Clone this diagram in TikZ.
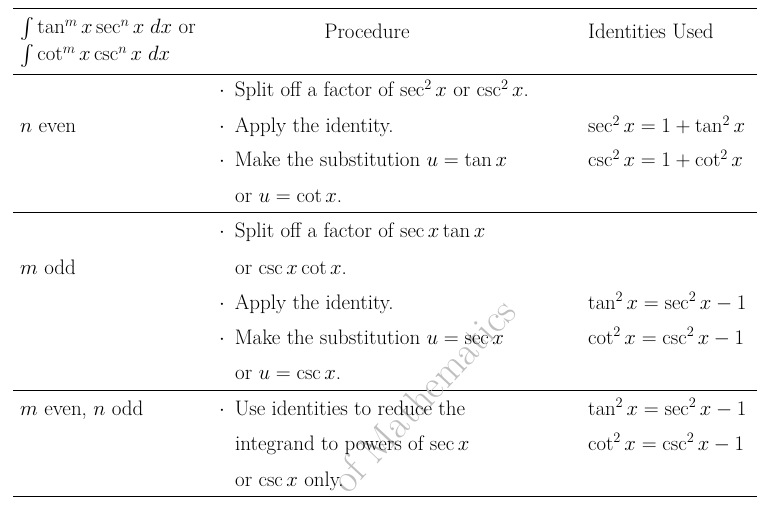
\documentclass[tikz,border=0pt]{standalone}
\usepackage{amsmath}
\begin{document}
\begin{tikzpicture}[x=1pt,y=-1pt,
  txt/.style={anchor=base west,inner sep=0pt,font=\fontsize{21}{25}\selectfont},
  rule/.style={line width=0.8pt}]
\useasboundingbox (0,0) rectangle (766,505);
\draw[rule] (13,8) -- (757,8);
\draw[line width=0.5pt] (13,74) -- (757,74);
\draw[line width=0.5pt] (13,212) -- (757,212);
\draw[line width=0.5pt] (13,390) -- (757,390);
\draw[rule] (13,496) -- (757,496);
\node[anchor=center,rotate=47,text=black!25,font=\fontsize{40}{44}\selectfont] (wm) at (423,395) {of Mathematics};
% header
\node[txt] (h1) at (20,34) {$\textstyle\int\tan^m x\sec^n x\;dx$ or};
\node[txt] (h2) at (20,61) {$\textstyle\int\cot^m x\csc^n x\;dx$};
\node[txt,anchor=base] (h3) at (367,39) {Procedure};
\node[txt] (h4) at (588,39) {Identities Used};
% row 1
\node[txt] (r1) at (20,133) {$n$ even};
\node[txt] (p11) at (219,97) {$\cdot$\, Split off a factor of $\sec^2x$ or $\csc^2x$.};
\node[txt] (p12) at (219,133) {$\cdot$\, Apply the identity.};
\node[txt] (p13) at (219,167) {$\cdot$\, Make the substitution $u=\tan x$};
\node[txt] (p14) at (235,203) {or $u=\cot x$.};
\node[txt] (i11) at (588,133) {$\sec^2x=1+\tan^2x$};
\node[txt] (i12) at (588,167) {$\csc^2x=1+\cot^2x$};
% row 2
\node[txt] (r2) at (20,274) {$m$ odd};
\node[txt] (p21) at (219,238) {$\cdot$\, Split off a factor of $\sec x\tan x$};
\node[txt] (p22) at (235,274) {or $\csc x\cot x$.};
\node[txt] (p23) at (219,309) {$\cdot$\, Apply the identity.};
\node[txt] (p24) at (219,344) {$\cdot$\, Make the substitution $u=\sec x$};
\node[txt] (p25) at (235,379) {or $u=\csc x$.};
\node[txt] (i21) at (588,309) {$\tan^2x=\sec^2x-1$};
\node[txt] (i22) at (588,344) {$\cot^2x=\csc^2x-1$};
% row 3
\node[txt] (r3) at (20,415) {$m$ even, $n$ odd};
\node[txt] (p31) at (219,415) {$\cdot$\, Use identities to reduce the};
\node[txt] (p32) at (235,450) {integrand to powers of $\sec x$};
\node[txt] (p33) at (235,486) {or $\csc x$ only.};
\node[txt] (i31) at (588,415) {$\tan^2x=\sec^2x-1$};
\node[txt] (i32) at (588,450) {$\cot^2x=\csc^2x-1$};
\end{tikzpicture}
\end{document}
